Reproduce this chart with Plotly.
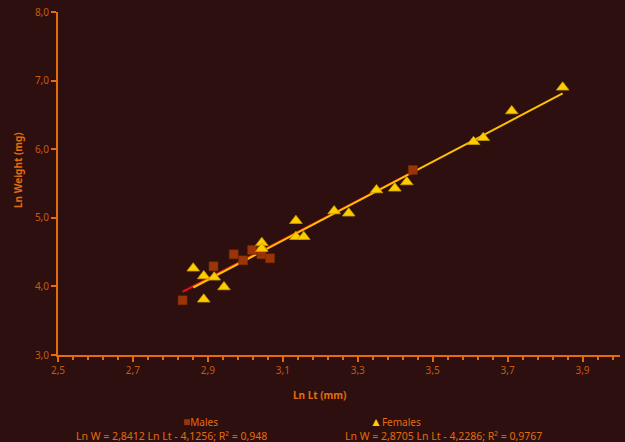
import plotly.graph_objects as go

# Data
males_x = [2.8325, 2.915, 2.969, 2.994, 3.018, 3.043, 3.043, 3.066, 3.447]
males_y = [3.797, 4.293, 4.468, 4.380, 4.531, 4.468, 4.52, 4.410, 5.697]

females_x = [2.861, 2.889, 2.917, 2.943, 2.889, 3.044, 3.044, 3.135, 3.135, 3.156,
             3.237, 3.276, 3.350, 3.399, 3.431, 3.609, 3.635, 3.711, 3.847]
females_y = [4.264, 4.152, 4.133, 3.991, 3.812, 4.637, 4.55, 4.958, 4.724, 4.724,
             5.099, 5.066, 5.405, 5.430, 5.522, 6.109, 6.168, 6.557, 6.902]

# Trendline equations shown in chart
males_slope, males_icpt = 2.8412, -4.1256
females_slope, females_icpt = 2.8705, -4.2286
males_eq = "Ln W = 2,8412 Ln Lt - 4,1256; R² = 0,948"
females_eq = "Ln W = 2,8705 Ln Lt - 4,2286; R² = 0,9767"

BG = "#2D0F0F"
AXIS = "#E46C0A"
TICK = "#C55A11"
FONT = "Noto Sans"

L, R, T, B = 58, 5, 12, 87
PW, PH = 625 - L - R, 442 - T - B


def px_x(p):
    return (p - L) / PW


def px_y(p):
    return (442 - B - p) / PH


m_lx = [min(males_x), max(males_x)]
m_ly = [males_slope * v + males_icpt for v in m_lx]
f_lx = [min(females_x), max(females_x)]
f_ly = [females_slope * v + females_icpt for v in f_lx]

fig = go.Figure()
fig.add_trace(go.Scatter(x=m_lx, y=m_ly, mode="lines",
                         line=dict(color="#E01010", width=2), showlegend=False, hoverinfo="skip"))
fig.add_trace(go.Scatter(x=f_lx, y=f_ly, mode="lines",
                         line=dict(color="#FFC000", width=2), showlegend=False, hoverinfo="skip"))
fig.add_trace(go.Scatter(x=males_x, y=males_y, mode="markers", name="Males",
                         marker=dict(symbol="square", size=9, color="#9A3508",
                                     line=dict(color="#7A2A06", width=0.5)),
                         showlegend=False))
fig.add_trace(go.Scatter(x=females_x, y=females_y, mode="markers", name="Females",
                         marker=dict(symbol="triangle-up", size=11, color="#FFCC00",
                                     line=dict(color="#C89A00", width=0.8)),
                         showlegend=False))

ann_font = dict(family=FONT, size=10, color=AXIS)
eq_font = dict(family=FONT, size=10.5, color=AXIS)
fig.add_annotation(xref="paper", yref="paper", x=px_x(200), y=px_y(421),
                   text="<span style='color:#9A3508;font-size:12px'>■</span>Males", showarrow=False,
                   font=ann_font, xanchor="center", yanchor="middle")
fig.add_annotation(xref="paper", yref="paper", x=px_x(171), y=px_y(435.5),
                   text=males_eq, showarrow=False,
                   font=eq_font, xanchor="center", yanchor="middle")
fig.add_annotation(xref="paper", yref="paper", x=px_x(395), y=px_y(421),
                   text="<span style='color:#FFCC00;font-size:12px'>▲</span>Females", showarrow=False,
                   font=ann_font, xanchor="center", yanchor="middle")
fig.add_annotation(xref="paper", yref="paper", x=px_x(443), y=px_y(435.5),
                   text=females_eq, showarrow=False,
                   font=eq_font, xanchor="center", yanchor="middle")
# axis titles
fig.add_annotation(xref="paper", yref="paper", x=px_x(320), y=px_y(395),
                   text="<b>Ln Lt (mm)</b>", showarrow=False,
                   font=ann_font, xanchor="center", yanchor="middle")
fig.add_annotation(xref="paper", yref="paper", x=px_x(18), y=px_y(170),
                   text="<b>Ln Weight (mg)</b>", showarrow=False, textangle=-90,
                   font=ann_font, xanchor="center", yanchor="middle")

fig.update_layout(
    width=625, height=442,
    margin=dict(l=L, r=R, t=T, b=B, autoexpand=False),
    paper_bgcolor=BG, plot_bgcolor=BG,
    separators=",.",
    font=dict(family=FONT, size=10, color=TICK),
    xaxis=dict(range=[2.5, 4.0], tick0=2.5, dtick=0.2, tickformat=".1f",
               showgrid=False, zeroline=False, automargin=False,
               showline=True, linecolor=AXIS, linewidth=2,
               ticks="outside", ticklen=5, tickwidth=1.5, tickcolor=AXIS,
               minor=dict(dtick=0.04, tick0=2.5, ticks="outside", ticklen=3, tickcolor=AXIS, showgrid=False),
               tickfont=dict(family=FONT, size=10, color=TICK)),
    yaxis=dict(range=[3, 8], tick0=3, dtick=1, tickformat=".1f",
               showgrid=False, zeroline=False, automargin=False,
               showline=True, linecolor=AXIS, linewidth=2,
               ticks="outside", ticklen=5, tickwidth=1.5, tickcolor=AXIS,
               tickfont=dict(family=FONT, size=10, color=TICK)),
)

fig.write_html("out.html", config={"displayModeBar": False},
               post_script="document.body.style.margin='0';document.body.style.background='" + BG + "';")
